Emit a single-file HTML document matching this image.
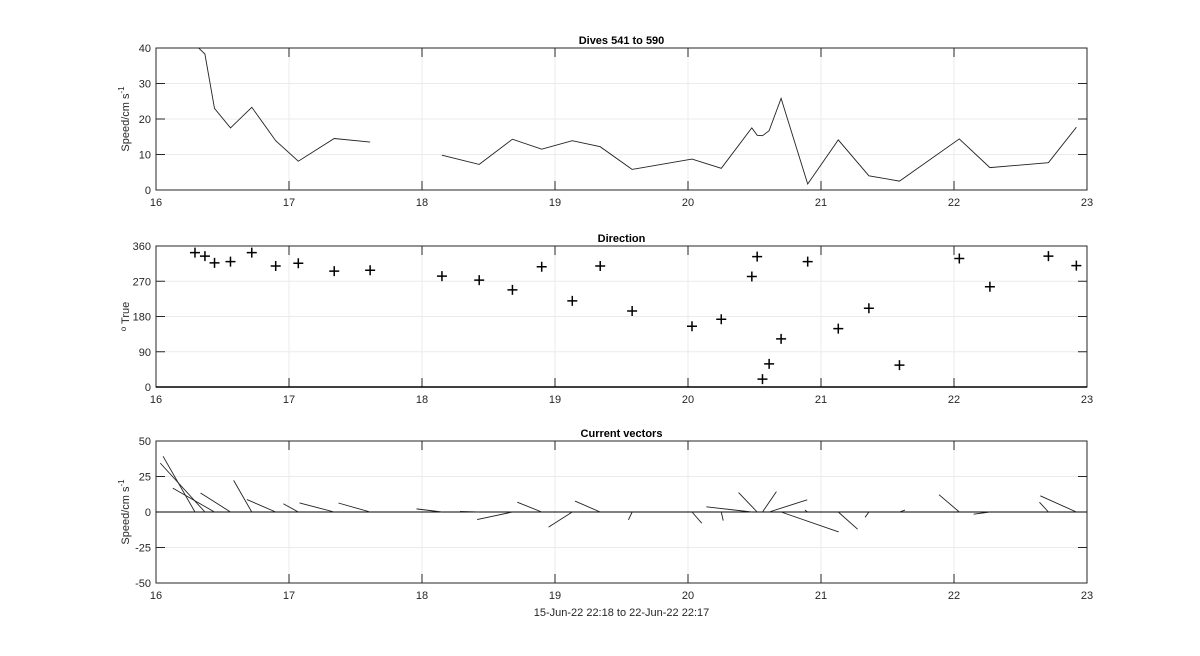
<!DOCTYPE html>
<html><head><meta charset="utf-8"><style>
html,body{margin:0;padding:0;background:#fff;width:1200px;height:656px;overflow:hidden}
svg{display:block;font-family:"Liberation Sans",Arial,sans-serif}
</style></head><body>
<svg id="fig" width="1200" height="656" viewBox="0 0 1200 656"></svg>
<script>
const times=[16.293,16.368,16.44,16.56,16.72,16.90,17.07,17.34,17.61,18.15,18.43,18.68,18.90,19.13,19.34,19.58,20.03,20.25,20.48,20.52,20.56,20.61,20.70,20.90,21.13,21.36,21.59,22.04,22.27,22.71,22.92];
const speeds=[41,38.3,23.0,17.5,23.3,13.9,8.1,14.5,13.5,9.8,7.2,14.3,11.5,13.9,12.2,5.8,8.7,6.1,17.5,15.4,15.3,16.7,25.8,1.7,14.1,4.0,2.5,14.4,6.3,7.7,17.7];
const directions=[343,334,317,320,343,309,316,296,298,283,273,248,307,220,309,194,155,173,282,333,20,59,123,320,149,201,56,328,256,334,310];
const xTicks=[16,17,18,19,20,21,22,23];
const speedTicks=[0,10,20,30,40];
const dirTicks=[0,90,180,270,360];
const vecTicks=[-50,-25,0,25,50];
const VEC_SCALE=0.02; // days per cm/s
const GAP=0.5;
const NS='http://www.w3.org/2000/svg';
const svg=document.getElementById('fig');
const X0=156,X1=1087,XMIN=16,XMAX=23;
function xs(t){return X0+(t-XMIN)/(XMAX-XMIN)*(X1-X0);}
function el(tag,attrs,parent){const e=document.createElementNS(NS,tag);for(const k in attrs)e.setAttribute(k,attrs[k]);(parent||svg).appendChild(e);return e;}
function panel(top,bot,ymin,ymax,yt,title,ylabel,name){
  const g=el('g',{});
  
  
  const ys=v=>bot-(v-ymin)/(ymax-ymin)*(bot-top);
  xTicks.forEach(t=>{const gl=el('line',{x1:xs(t),x2:xs(t),y1:top,y2:bot,stroke:'#ebebeb','stroke-width':1},g);
    });
  yt.forEach(v=>{const gl=el('line',{x1:X0,x2:X1,y1:ys(v),y2:ys(v),stroke:'#ebebeb','stroke-width':1},g);
    });
  const box=el('rect',{x:X0,y:top,width:X1-X0,height:bot-top,fill:'none',stroke:'#262626','stroke-width':1},g);
  
  xTicks.forEach(t=>{
    el('line',{x1:xs(t),x2:xs(t),y1:bot,y2:bot-9,stroke:'#262626'},g);
    el('line',{x1:xs(t),x2:xs(t),y1:top,y2:top+9,stroke:'#262626'},g);
    const tx=el('text',{x:xs(t),y:bot+16,'text-anchor':'middle','font-size':11,fill:'#262626'},g);
    tx.textContent=t;
  });
  yt.forEach(v=>{
    el('line',{x1:X0,x2:X0+9,y1:ys(v),y2:ys(v),stroke:'#262626'},g);
    el('line',{x1:X1,x2:X1-9,y1:ys(v),y2:ys(v),stroke:'#262626'},g);
    const tx=el('text',{x:X0-5,y:ys(v)+4,'text-anchor':'end','font-size':11,fill:'#262626'},g);
    tx.textContent=v;
  });
  const ti=el('text',{x:(X0+X1)/2,y:top-4,'text-anchor':'middle','font-size':11,'font-weight':'bold',fill:'#000'},g);
  ti.textContent=title;
  const yl=el('text',{x:0,y:0,'text-anchor':'middle','font-size':11,fill:'#262626',transform:`translate(${X0-27},${(top+bot)/2}) rotate(-90)`},g);
  yl.innerHTML=ylabel;
  return {g,ys};
}
const p1=panel(48,190,0,40,speedTicks,'Dives 541 to 590','Speed/cm s<tspan dy="-5" font-size="8">-1</tspan>','speed-panel');
const cp=el('clipPath',{id:'c1'});el('rect',{x:X0,y:48,width:X1-X0,height:142},cp);
let d='';times.forEach((t,i)=>{const gap=i>0&&t-times[i-1]>GAP;d+=(i===0||gap?'M':'L')+xs(t).toFixed(1)+' '+p1.ys(speeds[i]).toFixed(1)+' ';});
const sl=el('path',{d:d,fill:'none',stroke:'#222','stroke-width':0.9,'clip-path':'url(#c1)'},p1.g);

const p2=panel(246,387,0,360,dirTicks,'Direction','<tspan dy="-3" font-size="8">o</tspan><tspan dy="3"> True</tspan>','direction-panel');
el('line',{x1:X0,x2:X1,y1:387,y2:387,stroke:'#000','stroke-width':1.5},p2.g);
times.forEach((t,i)=>{const x=xs(t),y=p2.ys(directions[i]);
  const m=el('path',{d:`M${x-5} ${y}H${x+5}M${x} ${y-5}V${y+5}`,stroke:'#000','stroke-width':1.5},p2.g);
  });
const p3=panel(441,583,-50,50,vecTicks,'Current vectors','Speed/cm s<tspan dy="-5" font-size="8">-1</tspan>','vector-panel');
el('line',{x1:X0,x2:X1,y1:p3.ys(0),y2:p3.ys(0),stroke:'#000','stroke-width':1},p3.g);
times.forEach((t,i)=>{const a=directions[i]*Math.PI/180,u=speeds[i]*Math.sin(a),v=speeds[i]*Math.cos(a);
  const l=el('line',{x1:xs(t),y1:p3.ys(0),x2:xs(t+u*VEC_SCALE),y2:p3.ys(v),stroke:'#222','stroke-width':0.9},p3.g);
  });
const xl=el('text',{x:(X0+X1)/2,y:616,'text-anchor':'middle','font-size':11,fill:'#262626'});
xl.textContent='15-Jun-22 22:18 to 22-Jun-22 22:17';


</script>
</body></html>
